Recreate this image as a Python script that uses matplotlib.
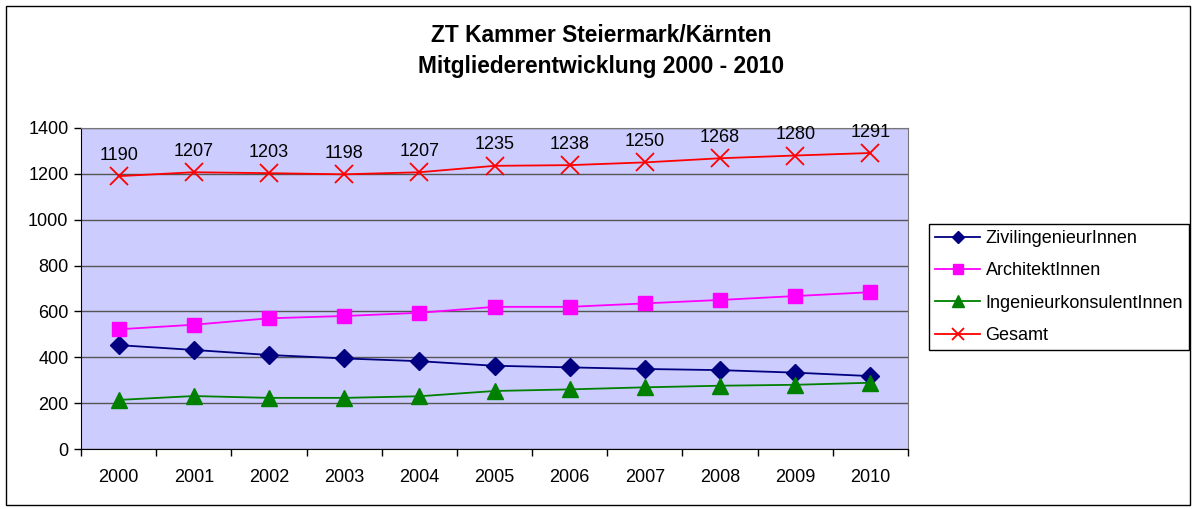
import matplotlib.pyplot as plt
from matplotlib.patches import Rectangle

plt.rcParams['font.family'] = ['Liberation Sans', 'DejaVu Sans']

years = ['2000', '2001', '2002', '2003', '2004', '2005', '2006', '2007', '2008', '2009', '2010']
zivil = [453, 432, 410, 395, 383, 363, 356, 349, 344, 333, 318]
archi = [522, 542, 570, 580, 594, 620, 620, 635, 650, 667, 684]
ingen = [214, 231, 223, 223, 230, 253, 260, 269, 276, 280, 289]
gesamt = [1190, 1207, 1203, 1198, 1207, 1235, 1238, 1250, 1268, 1280, 1291]

W, H = 1195, 509
fig = plt.figure(figsize=(W / 100, H / 100), dpi=100)
fig.patches.append(Rectangle((6 / W, 4 / H), 1184 / W, 499 / H, transform=fig.transFigure,
                             fill=False, edgecolor='black', linewidth=1))

ax = fig.add_axes([81 / W, (H - 449) / H, (908 - 81) / W, (449 - 128) / H])
ax.set_facecolor('#CCCCFF')

x = list(range(len(years)))
ax.plot(x, zivil, color='#000080', marker='D', markersize=9, linewidth=1.3, label='ZivilingenieurInnen')
ax.plot(x, archi, color='#FF00FF', marker='s', markersize=10, linewidth=1.3, label='ArchitektInnen')
ax.plot(x, ingen, color='#008000', marker='^', markersize=12, linewidth=1.3, label='IngenieurkonsulentInnen')
ax.plot(x, gesamt, color='#FF0000', marker='x', markersize=13, markeredgewidth=1.3, linewidth=1.3, label='Gesamt')

for xi, v in zip(x, gesamt):
    ax.annotate(str(v), (xi, v), xytext=(0, 15), textcoords='offset points',
                ha='center', va='center', fontsize=13)

ax.set_xlim(-0.5, len(years) - 0.5)
ax.set_ylim(0, 1400)
ax.set_yticks(range(0, 1401, 200))
ax.set_xticks(x)
ax.set_xticklabels(years)
ax.set_xticks([i - 0.5 for i in range(len(years) + 1)], minor=True)
ax.tick_params(axis='x', which='major', length=0, pad=14.5, labelsize=13)
ax.tick_params(axis='x', which='minor', length=5, width=1, color='black')
ax.tick_params(axis='y', length=5, width=1, labelsize=13, pad=4)
ax.yaxis.grid(True, color='#555555', linewidth=1)
ax.set_axisbelow(True)

ax.spines['left'].set_color('black')
ax.spines['bottom'].set_color('black')
ax.spines['top'].set_color('#777777')
ax.spines['right'].set_color('#777777')

fig.text(601 / W, (H - 36) / H, 'ZT Kammer Steiermark/Kärnten', ha='center', va='center',
         fontsize=16.4, fontweight='bold')
fig.text(601 / W, (H - 66) / H, 'Mitgliederentwicklung 2000 - 2010', ha='center', va='center',
         fontsize=16.4, fontweight='bold')

leg = fig.legend(loc='upper left', bbox_to_anchor=(929 / W, (H - 224) / H), fontsize=13,
                 frameon=True, fancybox=False, edgecolor='black', framealpha=1,
                 handlelength=2.5, labelspacing=0.85, borderpad=0.33, handletextpad=0.3,
                 borderaxespad=0, markerscale=0.7)
leg.get_frame().set_linewidth(1)

fig.savefig('out.png', dpi=100)
